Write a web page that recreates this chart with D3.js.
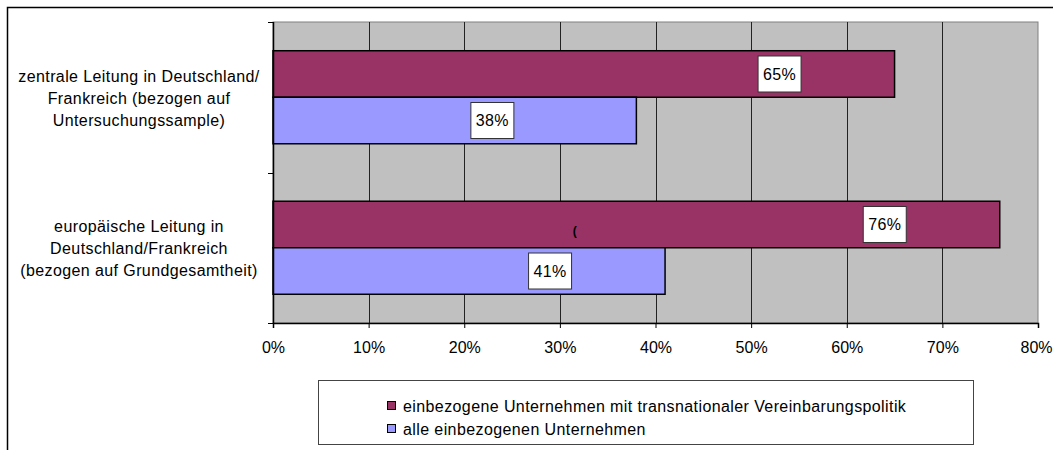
<!DOCTYPE html>
<html>
<head>
<meta charset="utf-8">
<script src="https://cdn.jsdelivr.net/npm/d3@7"></script>
<style>
  body { margin: 0; background: #fff; }
  text { font-family: "Liberation Sans", Arial, sans-serif; fill: #000; letter-spacing: 0.4px; }
</style>
</head>
<body>
<div id="chart"></div>
<script>
(function(){
    // data
    var categories = [
        ["zentrale Leitung in Deutschland/", "Frankreich (bezogen auf", "Untersuchungssample)"],
        ["europäische Leitung in", "Deutschland/Frankreich", "(bezogen auf Grundgesamtheit)"]
    ];
    var seriesNames = [
        "einbezogene Unternehmen mit transnationaler Vereinbarungspolitik",
        "alle einbezogenen Unternehmen"
    ];
    var transnationalValues = [65, 76];
    var allValues = [38, 41];
    var xTicks = [0, 10, 20, 30, 40, 50, 60, 70, 80];

    var colors = ["#993366", "#9999ff"];
    // label box nudges (px), same order as bars: [series][category]
    var labelNudge = [[0, 0], [-29, 0]];

    var width = 1053, height = 450;
    var plot = {left: 273, right: 1038, top: 22, bottom: 323};
    var fontSize = "16px";

    var svg = d3.select("#chart")
        .append("svg")
        .attr("width", width)
        .attr("height", height);

    // outer frame (extends past the window)
    svg.append("path")
        .attr("d", "M7.5,460 V7.5 H1060")
        .attr("fill", "none")
        .attr("stroke", "#000")
        .attr("stroke-width", 1.5);

    var x = d3.scaleLinear().domain([0, 80]).range([plot.left, plot.right]);
    var y = d3.scaleBand().domain([0, 1]).range([plot.top, plot.bottom]);
    var ySeries = d3.scaleBand().domain([0, 1]).range([0, y.bandwidth()])
        .paddingInner(0).paddingOuter(0.618);

    // plot background
    svg.append("rect")
        .attr("x", plot.left).attr("y", plot.top)
        .attr("width", plot.right - plot.left)
        .attr("height", plot.bottom - plot.top)
        .attr("fill", "#c0c0c0")
        .attr("stroke", "#808080")
        .attr("stroke-width", 1);

    // grid lines
    svg.selectAll(".grid")
        .data(xTicks.slice(1, -1))
        .enter()
        .append("line")
        .attr("class", "grid")
        .attr("x1", d => Math.round(x(d)) + 0.5)
        .attr("x2", d => Math.round(x(d)) + 0.5)
        .attr("y1", plot.top)
        .attr("y2", plot.bottom)
        .attr("stroke", "#222")
        .attr("stroke-width", 1);

    var series = [transnationalValues, allValues];

    series.forEach(function(vals, si){
        svg.selectAll(".bar" + si)
            .data(vals)
            .enter()
            .append("rect")
            .attr("class", "bar" + si)
            .attr("x", x(0))
            .attr("y", (d, i) => y(i) + ySeries(si))
            .attr("width", d => x(d) - x(0))
            .attr("height", ySeries.bandwidth())
            .attr("fill", colors[si])
            .attr("stroke", "#000")
            .attr("stroke-width", 1.5);
    });

    // stray mark inside the lower maroon bar
    svg.append("text")
        .attr("x", 575)
        .attr("y", 235)
        .attr("text-anchor", "middle")
        .style("font-size", "12px")
        .style("font-weight", "bold")
        .text("(");

    // data labels
    series.forEach(function(vals, si){
        var g = svg.selectAll(".lab" + si)
            .data(vals)
            .enter()
            .append("g")
            .attr("class", "lab" + si)
            .attr("transform", (d, i) => "translate(" + (x(d) - 115 + labelNudge[si][i]) + "," +
                (y(i) + ySeries(si) + ySeries.bandwidth() / 2) + ")");
        g.append("rect")
            .attr("x", -21.5).attr("y", -18)
            .attr("width", 43).attr("height", 36)
            .attr("fill", "#fff")
            .attr("stroke", "#333")
            .attr("stroke-width", 1);
        g.append("text")
            .attr("text-anchor", "middle")
            .attr("dy", "0.35em")
            .style("font-size", fontSize)
            .text(d => d + "%");
    });

    // left axis
    svg.append("line")
        .attr("x1", plot.left + 0.5).attr("x2", plot.left + 0.5)
        .attr("y1", plot.top).attr("y2", plot.bottom)
        .attr("stroke", "#000").attr("stroke-width", 1.5);
    svg.selectAll(".ytick")
        .data([plot.top, y(1), plot.bottom])
        .enter()
        .append("line")
        .attr("x1", plot.left - 5).attr("x2", plot.left)
        .attr("y1", d => Math.round(d) + 0.5).attr("y2", d => Math.round(d) + 0.5)
        .attr("stroke", "#000");

    // category labels
    categories.forEach(function(lines, i){
        var cy = y(i) + y.bandwidth() / 2 + 1;
        svg.append("text")
            .attr("text-anchor", "middle")
            .style("font-size", fontSize)
            .selectAll("tspan")
            .data(lines)
            .enter()
            .append("tspan")
            .attr("x", 139)
            .attr("y", (d, k) => cy + (k - 1) * 22)
            .attr("dy", "0.35em")
            .text(d => d);
    });

    // bottom axis
    var xAxis = d3.axisBottom(x)
        .tickValues(xTicks)
        .tickFormat(d => d + "%")
        .tickSize(5)
        .tickPadding(14);
    var ax = svg.append("g")
        .attr("transform", "translate(0," + plot.bottom + ")")
        .call(xAxis);
    ax.select(".domain").attr("stroke", "#000").attr("stroke-width", 1.5);
    ax.selectAll(".tick line").attr("stroke", "#000");
    ax.selectAll(".tick text")
        .style("font-size", fontSize)
        .style("letter-spacing", "0px")
        .style("font-family", "'Liberation Sans', Arial, sans-serif")
        .attr("fill", "#000")
        .attr("dx", d => d === 80 ? -2 : 0);

    // legend
    var legend = svg.append("g");
    legend.append("rect")
        .attr("x", 318.5).attr("y", 380.5)
        .attr("width", 655).attr("height", 64)
        .attr("fill", "#fff")
        .attr("stroke", "#444")
        .attr("stroke-width", 1);
    var items = legend.selectAll(".legitem")
        .data(seriesNames)
        .enter()
        .append("g")
        .attr("transform", (d, i) => "translate(387," + (401 + i * 23) + ")");
    items.append("rect")
        .attr("x", 0.5).attr("y", 0.5)
        .attr("width", 8).attr("height", 8)
        .attr("fill", (d, i) => colors[i])
        .attr("stroke", "#000")
        .attr("stroke-width", 1);
    items.append("text")
        .attr("x", 16)
        .attr("y", 5)
        .attr("dy", "0.35em")
        .style("font-size", fontSize)
        .text(d => d);
})();
</script>
</body>
</html>
